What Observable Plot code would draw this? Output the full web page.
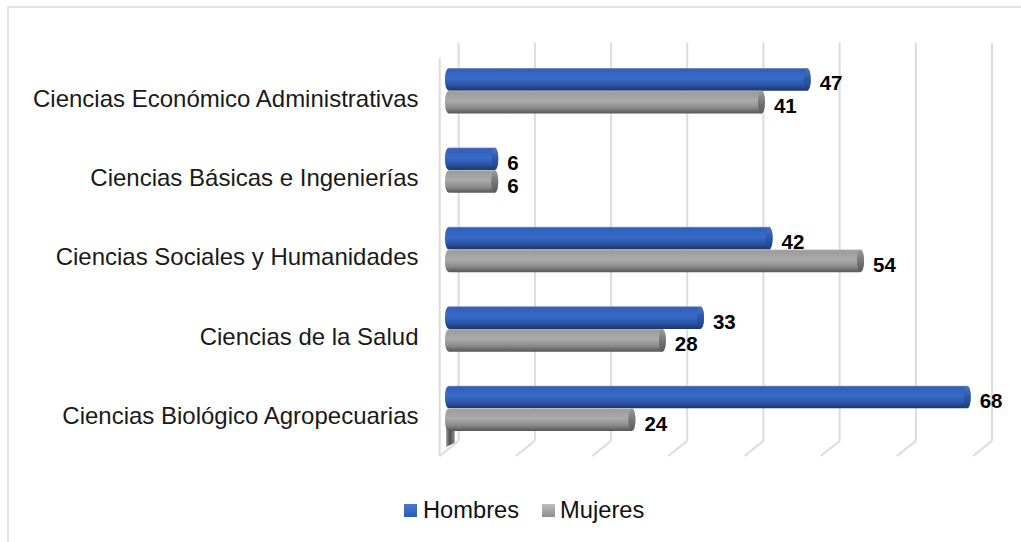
<!DOCTYPE html>
<html><head><meta charset="utf-8">
<script src="https://cdn.jsdelivr.net/npm/d3@7"></script>
<script src="https://cdn.jsdelivr.net/npm/@observablehq/plot@0.6"></script>
<style>
html,body{margin:0;padding:0;background:#fff;overflow:hidden}
#page{position:relative;width:1021px;height:542px;font-family:"Liberation Sans",Arial,sans-serif;color:#000}
#frame{position:absolute;left:7px;top:6px;right:0;bottom:0;border-left:2px solid #e3e3e3;border-top:2px solid #e3e3e3}
#chart{position:absolute;left:0;top:0}
#legend{position:absolute;left:404px;top:495px;display:flex;align-items:center;font-size:23.7px;line-height:30px;color:#111}
#legend i{display:inline-block;width:13px;height:13px;margin-right:6px}
#legend span.g{margin-left:23px}
#legend span.g i{margin-right:5px}
</style></head>
<body><div id="page"><div id="frame"></div><div id="chart"></div><div id="legend"></div></div>
<script>
const categories = ["Ciencias Económico Administrativas","Ciencias Básicas e Ingenierías","Ciencias Sociales y Humanidades","Ciencias de la Salud","Ciencias Biológico Agropecuarias"];
const hombres = [47,6,42,33,68];
const mujeres = [41,6,54,28,24];
const gridTicks = [0,10,20,30,40,50,60,70];
const legendNames = ["Hombres","Mujeres"];
const stub = [{x:-0.38,y1:4.74,y2:4.985},{x:0.75,y1:4.74,y2:4.93}];

const backShift = 1.2, frontShift = -1.28;
const wall = {backTop:-0.117, backBottom:4.90, frontTop:0.072, frontBottom:5.09};
const half = 0.286;

const rowsOf = (vals, top, id) => vals.map((v,i)=>({
  v, i,
  y1: i+0.497+(top?-half:0),
  y2: i+0.497+(top?0:half),
  id
}));
const blue = rowsOf(hombres,true,"b");
const gray = rowsOf(mujeres,false,"g");
const all = [...blue,...gray];

const defs = () => {
  const s = d3.create("svg:defs");
  const grad = (id,stops,horizontal)=>{
    const g = s.append("linearGradient").attr("id",id).attr("x1",0).attr("y1",0).attr("x2",horizontal?1:0).attr("y2",horizontal?0:1);
    stops.forEach(([o,c])=>g.append("stop").attr("offset",o).attr("stop-color",c));
  };
  grad("gb",[[0,"#8ea2c6"],[0.06,"#2f5fb8"],[0.45,"#386ccb"],[0.75,"#2b54a3"],[1,"#1c3565"]]);
  grad("gg",[[0,"#bcbcbc"],[0.06,"#9c9c9c"],[0.45,"#ababab"],[0.75,"#8a8a8a"],[1,"#565656"]]);
  grad("cb",[[0,"#4f74b8"],[0.5,"#2c58aa"],[1,"#1f3f7c"]]);
  grad("cg",[[0,"#9a9a9a"],[0.5,"#777"],[1,"#5a5a5a"]]);
  grad("st",[[0,"#9a9a9a"],[0.45,"#4d4d4d"],[1,"#8c8c8c"]],true);
  return s.node();
};

const chart = Plot.plot({
  width:1021, height:484,
  marginLeft:449, marginRight:0, marginTop:0, marginBottom:0,
  x:{domain:[0,70], range:[449,982.4], axis:null},
  y:{domain:[0,5], range:[51.3,448.3], axis:null},
  style:{background:"transparent", fontFamily:"'Liberation Sans',Arial,sans-serif"},
  marks:[
    defs,
    Plot.link(gridTicks,{x1:d=>d+backShift,x2:d=>d+backShift,y1:wall.backTop,y2:wall.backBottom,stroke:"#dcdcdc",strokeWidth:2}),
    Plot.link(gridTicks,{x1:d=>d+backShift,x2:d=>d+frontShift,y1:wall.backBottom,y2:wall.frontBottom,stroke:"#dcdcdc",strokeWidth:2}),
    Plot.link([0],{x1:d=>d+frontShift,x2:d=>d+frontShift,y1:wall.frontTop,y2:wall.frontBottom,stroke:"#dcdcdc",strokeWidth:2}),
    Plot.areaY(stub,{x:"x",y1:"y1",y2:"y2",fill:"url(#st)"}),
    Plot.rect(all,{x1:0,x2:"v",y1:"y1",y2:"y2",insetLeft:-4,insetRight:-3.5,rx:4,ry:10,fill:d=>d.id==="b"?"url(#gb)":"url(#gg)"}),
    Plot.rect(all,{x1:"v",x2:"v",y1:"y1",y2:"y2",insetLeft:-3.5,insetRight:-3.5,rx:3.5,ry:11,fill:d=>d.id==="b"?"url(#cb)":"url(#cg)"}),
    Plot.text(all,{x:"v",y:d=>(d.y1+d.y2)/2,dx:12,dy:4,text:d=>String(d.v),textAnchor:"start",fontWeight:"bold",fontSize:20.5,fill:"#000"}),
    Plot.axisY([0.5,1.5,2.5,3.5,4.5],{anchor:"left",tickSize:0,tickPadding:31,dy:7.5,label:null,tickFormat:d=>categories[d-0.5],fontSize:24,fill:"#1a1a1a"})
  ]
});
document.getElementById("chart").append(chart);

const legend = document.getElementById("legend");
legendNames.forEach((n,i)=>{
  const sp = document.createElement("span");
  sp.style.display="inline-flex"; sp.style.alignItems="center";
  if(i) sp.className="g";
  sp.innerHTML = `<i style="background:${i?"linear-gradient(#bdbdbd,#8e8e8e)":"linear-gradient(#4a7ad0,#2a5cb0)"}"></i>${n}`;
  legend.append(sp);
});
</script></body></html>
